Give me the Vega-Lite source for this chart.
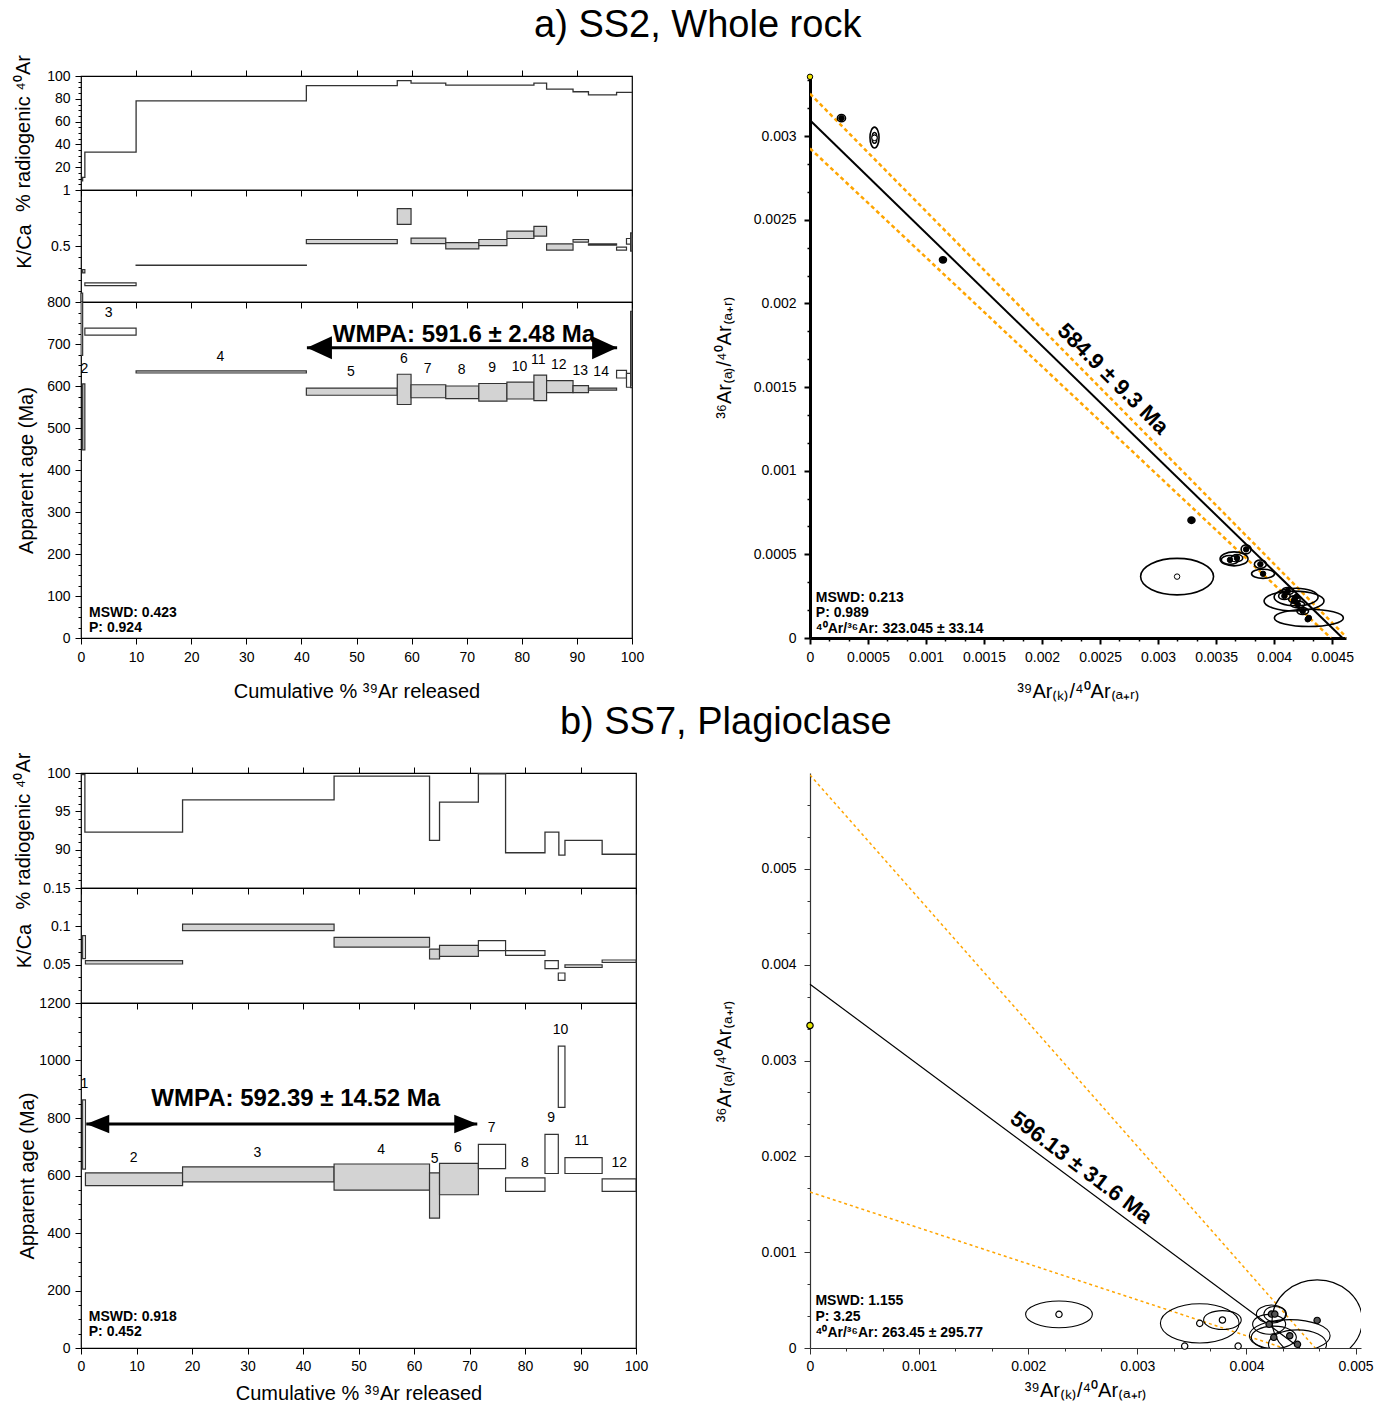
{
"$schema": "https://vega.github.io/schema/vega-lite/v6.json",
"background": "white",
"padding": {"left": 12, "top": 7, "right": 5, "bottom": 5},
"title": {"text": "a) SS2, Whole rock", "fontSize": 38, "fontWeight": "normal", "font": "Liberation Sans", "color": "#000", "anchor": "middle", "offset": 0, "dx": 5},
"config": {
  "view": {"stroke": "#000", "strokeWidth": 1.2},
  "axis": {"labelFont": "Liberation Sans Narrow, Arial Narrow, Liberation Sans, sans-serif", "labelFontSize": 14, "labelColor": "#000", "titleFont": "Liberation Sans", "titleFontSize": 20, "titleFontWeight": "normal", "titleColor": "#000", "tickColor": "#000", "domainColor": "#000", "tickSize": 6, "labelPadding": 5, "labelFlush": false, "labelOverlap": false, "grid": false}
},
"datasets": {
  "radA": [{"x":0,"v":8},{"x":0.3,"v":11},{"x":0.7,"v":33.2},{"x":10,"v":78.2},{"x":40.9,"v":91.5},{"x":57.4,"v":95.9},{"x":59.9,"v":93.8},{"x":66.2,"v":92},{"x":82.2,"v":93.8},{"x":84.5,"v":88.5},{"x":89.3,"v":86.2},{"x":92.1,"v":83.5},{"x":97.2,"v":85.6},{"x":100,"v":85.6}],
  "radB": [{"x":0,"v":99.8},{"x":0.7,"v":92.3},{"x":18.3,"v":96.5},{"x":45.6,"v":99.6},{"x":62.8,"v":91.2},{"x":64.6,"v":96.2},{"x":71.6,"v":99.9},{"x":76.5,"v":89.6},{"x":83.6,"v":92.3},{"x":86.1,"v":89.3},{"x":87.2,"v":91.2},{"x":93.9,"v":89.4},{"x":100,"v":89.4}],
  "stepsA": [
    {"step":1,"x0":0,"x1":0.3,"age_lo":673,"age_hi":830,"kca_lo":0.0,"kca_hi":0.08,"included":"no"},
    {"step":2,"x0":0.3,"x1":0.7,"age_lo":448,"age_hi":605,"kca_lo":0.26,"kca_hi":0.29,"included":"yes"},
    {"step":3,"x0":0.7,"x1":10,"age_lo":721,"age_hi":738,"kca_lo":0.146,"kca_hi":0.17,"included":"no"},
    {"step":4,"x0":10,"x1":40.9,"age_lo":631,"age_hi":636,"kca_lo":0.326,"kca_hi":0.33,"included":"yes"},
    {"step":5,"x0":40.9,"x1":57.4,"age_lo":578,"age_hi":595,"kca_lo":0.522,"kca_hi":0.558,"included":"yes"},
    {"step":6,"x0":57.4,"x1":59.9,"age_lo":556,"age_hi":628,"kca_lo":0.693,"kca_hi":0.833,"included":"yes"},
    {"step":7,"x0":59.9,"x1":66.2,"age_lo":572,"age_hi":603,"kca_lo":0.522,"kca_hi":0.57,"included":"yes"},
    {"step":8,"x0":66.2,"x1":72.2,"age_lo":570,"age_hi":600,"kca_lo":0.475,"kca_hi":0.531,"included":"yes"},
    {"step":9,"x0":72.2,"x1":77.3,"age_lo":564,"age_hi":606,"kca_lo":0.504,"kca_hi":0.558,"included":"yes"},
    {"step":10,"x0":77.3,"x1":82.2,"age_lo":569,"age_hi":609,"kca_lo":0.567,"kca_hi":0.633,"included":"yes"},
    {"step":11,"x0":82.2,"x1":84.5,"age_lo":565,"age_hi":626,"kca_lo":0.588,"kca_hi":0.675,"included":"yes"},
    {"step":12,"x0":84.5,"x1":89.3,"age_lo":584,"age_hi":613,"kca_lo":0.463,"kca_hi":0.519,"included":"yes"},
    {"step":13,"x0":89.3,"x1":92.1,"age_lo":584,"age_hi":601,"kca_lo":0.534,"kca_hi":0.558,"included":"yes"},
    {"step":14,"x0":92.1,"x1":97.2,"age_lo":590,"age_hi":595,"kca_lo":0.507,"kca_hi":0.519,"included":"yes"},
    {"step":15,"x0":97.2,"x1":99.0,"age_lo":619,"age_hi":637,"kca_lo":0.463,"kca_hi":0.49,"included":"no"},
    {"step":16,"x0":99.0,"x1":100,"age_lo":597,"age_hi":630,"kca_lo":0.516,"kca_hi":0.567,"included":"no"},
    {"step":17,"x0":99.75,"x1":100,"age_lo":596,"age_hi":778,"kca_lo":0.454,"kca_hi":0.618,"included":"no"}
  ],
  "stepsB": [
    {"step":1,"x0":0.3,"x1":0.8,"age_lo":622,"age_hi":863,"kca_lo":0.0578,"kca_hi":0.0878,"included":"no"},
    {"step":2,"x0":0.8,"x1":18.3,"age_lo":565,"age_hi":609,"kca_lo":0.0509,"kca_hi":0.0552,"included":"yes"},
    {"step":3,"x0":18.3,"x1":45.6,"age_lo":578,"age_hi":630,"kca_lo":0.0943,"kca_hi":0.103,"included":"yes"},
    {"step":4,"x0":45.6,"x1":62.8,"age_lo":549,"age_hi":640,"kca_lo":0.073,"kca_hi":0.0857,"included":"yes"},
    {"step":5,"x0":62.8,"x1":64.6,"age_lo":452,"age_hi":609,"kca_lo":0.0574,"kca_hi":0.0704,"included":"yes"},
    {"step":6,"x0":64.6,"x1":71.6,"age_lo":533,"age_hi":642,"kca_lo":0.0609,"kca_hi":0.0752,"included":"yes"},
    {"step":7,"x0":71.6,"x1":76.5,"age_lo":624,"age_hi":708,"kca_lo":0.0683,"kca_hi":0.0813,"included":"no"},
    {"step":8,"x0":76.5,"x1":83.6,"age_lo":545,"age_hi":592,"kca_lo":0.0622,"kca_hi":0.0683,"included":"no"},
    {"step":9,"x0":83.6,"x1":86.0,"age_lo":607,"age_hi":743,"kca_lo":0.0448,"kca_hi":0.0552,"included":"no"},
    {"step":10,"x0":86.0,"x1":87.2,"age_lo":837,"age_hi":1050,"kca_lo":0.0296,"kca_hi":0.0391,"included":"no"},
    {"step":11,"x0":87.2,"x1":93.9,"age_lo":607,"age_hi":662,"kca_lo":0.0465,"kca_hi":0.0496,"included":"no"},
    {"step":12,"x0":93.9,"x1":100,"age_lo":545,"age_hi":588,"kca_lo":0.053,"kca_hi":0.0561,"included":"no"}
  ],
  "labelsA": [{"label":"2","lx":0.6,"ly":641},{"label":"3","lx":5,"ly":774},{"label":"4","lx":25.3,"ly":669},{"label":"5","lx":49,"ly":633},{"label":"6","lx":58.6,"ly":665},{"label":"7","lx":62.9,"ly":640},{"label":"8","lx":69.1,"ly":637},{"label":"9","lx":74.6,"ly":643},{"label":"10","lx":79.6,"ly":645},{"label":"11","lx":83,"ly":663},{"label":"12","lx":86.7,"ly":649},{"label":"13","lx":90.6,"ly":636},{"label":"14","lx":94.4,"ly":633}],
  "labelsB": [{"label":"1","lx":0.6,"ly":917},{"label":"2","lx":9.5,"ly":662},{"label":"3","lx":31.8,"ly":680},{"label":"4","lx":54.1,"ly":688},{"label":"5","lx":63.7,"ly":659},{"label":"6","lx":67.9,"ly":694},{"label":"7","lx":74,"ly":766},{"label":"8","lx":80,"ly":644},{"label":"9","lx":84.7,"ly":799},{"label":"10","lx":86.4,"ly":1105},{"label":"11","lx":90.2,"ly":720},{"label":"12","lx":97,"ly":642}],
  "wmpaA": [{"x0":41.0,"x1":97.3,"y":691,"lx":69.5,"ly":721,"label":"WMPA: 591.6 ± 2.48 Ma"}],
  "wmpaB": [{"x0":0.95,"x1":71.4,"y":779,"lx":38.7,"ly":866,"label":"WMPA: 592.39 ± 14.52 Ma"}],
  "statsA": [{"x":1.45,"y":59.5,"t":"MSWD: 0.423"},{"x":1.45,"y":23.8,"t":"P: 0.924"}],
  "statsB": [{"x":1.4,"y":108,"t":"MSWD: 0.918"},{"x":1.4,"y":56,"t":"P: 0.452"}],
  "isoLinesA": [{"series":"fit","x":0,"y":0.003095},{"series":"fit","x":0.00459,"y":0},{"series":"upper","x":0,"y":0.003254},{"series":"upper","x":0.00463,"y":0},{"series":"lower","x":0,"y":0.002927},{"series":"lower","x":0.00449,"y":0}],
  "isoLinesB": [{"series":"fit","x":0,"y":0.003796},{"series":"fit","x":0.00449,"y":0},{"series":"upper","x":0,"y":0.00598},{"series":"upper","x":0.00463,"y":0},{"series":"lower","x":0,"y":0.001628},{"series":"lower","x":0.00434,"y":0}],
  "isoPtsA": [
    {"x":0,"y":0.003355,"w":0,"aspect":"0.9","kind":"atm"},
    {"x":0.000271,"y":0.003108,"w":0.00007,"aspect":"0.9","kind":"filled"},
    {"x":0.000556,"y":0.002992,"w":0.000078,"aspect":"2.3","kind":"hollow"},
    {"x":0.000556,"y":0.00299,"w":0.00004,"aspect":"2.3","kind":"hollow"},
    {"x":0.001146,"y":0.002261,"w":0.00006,"aspect":"0.9","kind":"filled"},
    {"x":0.003288,"y":0.000704,"w":0.00006,"aspect":"0.9","kind":"filled"},
    {"x":0.003164,"y":0.000367,"w":0.000629,"aspect":"0.5","kind":"hollow"},
    {"x":0.003655,"y":0.000473,"w":0.000241,"aspect":"0.5","kind":"hollow"},
    {"x":0.00362,"y":0.000467,"w":0.00015,"aspect":"0.5","kind":"filled"},
    {"x":0.00368,"y":0.000478,"w":0.0001,"aspect":"0.6","kind":"filled"},
    {"x":0.003759,"y":0.00053,"w":0.000086,"aspect":"0.9","kind":"filled"},
    {"x":0.003882,"y":0.000441,"w":0.000103,"aspect":"0.7","kind":"filled"},
    {"x":0.003905,"y":0.000384,"w":0.000198,"aspect":"0.4","kind":"filled"},
    {"x":0.004172,"y":0.000221,"w":0.000517,"aspect":"0.33","kind":"filled"},
    {"x":0.00419,"y":0.000245,"w":0.000379,"aspect":"0.4","kind":"filled"},
    {"x":0.0043,"y":0.00012,"w":0.000595,"aspect":"0.25","kind":"filled"},
    {"x":0.004118,"y":0.000281,"w":0.0001,"aspect":"0.6","kind":"filled"},
    {"x":0.004175,"y":0.000231,"w":0.0001,"aspect":"0.6","kind":"filled"},
    {"x":0.004204,"y":0.000201,"w":0.00012,"aspect":"0.5","kind":"filled"},
    {"x":0.00429,"y":0.000112,"w":0,"aspect":"0.9","kind":"filled"},
    {"x":0.004247,"y":0.000161,"w":0.0001,"aspect":"0.6","kind":"filled"},
    {"x":0.004089,"y":0.000251,"w":0.0001,"aspect":"0.6","kind":"filled"}
  ],
  "isoPtsB": [
    {"x":0,"y":0.003365,"w":0,"aspect":"0.9","kind":"atm"},
    {"x":0.002282,"y":0.000351,"w":0.000612,"aspect":"0.4","kind":"hollow"},
    {"x":0.003572,"y":0.000257,"w":0.000721,"aspect":"0.5","kind":"hollow"},
    {"x":0.00378,"y":0.000292,"w":0.000345,"aspect":"0.5","kind":"hollow"},
    {"x":0.004208,"y":0.000247,"w":0.000303,"aspect":"0.6","kind":"filled"},
    {"x":0.004229,"y":0.000354,"w":0.000275,"aspect":"0.6","kind":"filled"},
    {"x":0.00426,"y":0.000354,"w":0.0002,"aspect":"0.7","kind":"filled"},
    {"x":0.004648,"y":0.000288,"w":0.000826,"aspect":"0.9","kind":"filled"},
    {"x":0.004397,"y":0.000128,"w":0.00074,"aspect":"0.4","kind":"filled"},
    {"x":0.004251,"y":0.000111,"w":0.000413,"aspect":"0.5","kind":"filled"},
    {"x":0.004468,"y":0.000038,"w":0.000532,"aspect":"0.5","kind":"filled"},
    {"x":0.003434,"y":0.00002,"w":0,"aspect":"0.9","kind":"hollow"},
    {"x":0.003924,"y":0.00002,"w":0,"aspect":"0.9","kind":"hollow"}
  ],
  "isoLabelA": [{"x":0.002612,"y":0.001549,"label":"584.9 ± 9.3 Ma"}],
  "isoLabelB": [{"x":0.002486,"y":0.001885,"label":"596.13 ± 31.6 Ma"}],
  "isoStatsA": [{"x":0.00005,"y":0.000239,"t":"MSWD: 0.213"},{"x":0.00005,"y":0.00015,"t":"P: 0.989"},{"x":0.00005,"y":0.000054,"t":"⁴⁰Ar/³⁶Ar: 323.045 ± 33.14"}],
  "isoStatsB": [{"x":0.00005,"y":0.00049,"t":"MSWD: 1.155"},{"x":0.00005,"y":0.000323,"t":"P: 3.25"},{"x":0.00005,"y":0.000156,"t":"⁴⁰Ar/³⁶Ar: 263.45 ± 295.77"}]
},
"resolve": {"scale": {"fill": "independent", "size": "independent", "shape": "independent"}},
"spacing": 2,
"vconcat": [
 {
  "resolve": {"scale": {"fill": "independent", "size": "independent", "shape": "independent"}},
  "spacing": 69,
  "hconcat": [
   {
    "spacing": 0, "bounds": "flush",
    "vconcat": [
     {
      "width": 551, "height": 114,
      "data": {"name": "radA"},
      "layer": [
       {"mark": {"type": "line", "interpolate": "step-after", "color": "#333", "strokeWidth": 1.3},
        "encoding": {
         "x": {"field": "x", "type": "quantitative", "scale": {"domain": [0, 100], "nice": false}, "axis": {"orient": "bottom", "values": [0,10,20,30,40,50,60,70,80,90,100], "labels": false, "title": null, "domain": false}},
         "y": {"field": "v", "type": "quantitative", "scale": {"domain": [0, 100], "nice": false}, "axis": {"values": [20,40,60,80,100], "format": "d", "title": "% radiogenic ⁴⁰Ar", "titleX": -58, "titleBaseline": "middle", "domain": false}}
        }},
       {"mark": {"type": "point", "opacity": 0},
        "encoding": {
         "x": {"field": "x", "type": "quantitative", "axis": {"orient": "top", "values": [10,20,30,40,50,60,70,80,90], "labels": false, "domain": false, "title": " ", "titleY": -26, "titleBaseline": "middle", "titleFontSize": 8, "titleColor": "#ffffff"}},
         "y": {"field": "v", "type": "quantitative", "axis": {"orient": "left", "values": [5,10,15,25,30,35,45,50,55,65,70,75,85,90,95], "labels": false, "title": null, "domain": false, "tickSize": 3}}
        }}
      ],
      "resolve": {"axis": {"x": "independent", "y": "independent"}}
     },
     {
      "width": 551, "height": 112,
      "data": {"name": "stepsA"},
      "layer": [
       {"mark": {"type": "rect", "stroke": "#333", "strokeWidth": 1.2},
        "encoding": {
         "x": {"field": "x0", "type": "quantitative", "scale": {"domain": [0, 100], "nice": false}, "axis": {"values": [0,10,20,30,40,50,60,70,80,90,100], "labels": false, "title": null, "domain": false}},
         "x2": {"field": "x1"},
         "y": {"field": "kca_lo", "type": "quantitative", "scale": {"domain": [0, 1], "nice": false}, "axis": {"values": [0.5, 1], "format": ".1~f", "title": "K/Ca", "titleX": -57, "titleBaseline": "middle", "domain": false}},
         "y2": {"field": "kca_hi"},
         "fill": {"field": "included", "type": "nominal", "scale": {"domain": ["yes", "no"], "range": ["#d3d3d3", "#ffffff"]}, "legend": null}
        }},
       {"mark": {"type": "point", "opacity": 0},
        "encoding": {
         "x": {"field": "x0", "type": "quantitative"},
         "y": {"field": "kca_lo", "type": "quantitative", "axis": {"orient": "left", "values": [0.1,0.2,0.3,0.4,0.6,0.7,0.8,0.9], "labels": false, "title": null, "domain": false, "tickSize": 3}}
        }}
      ],
      "resolve": {"axis": {"y": "independent"}}
     },
     {
      "width": 551, "height": 336,
      "layer": [
       {"data": {"name": "stepsA"}, "mark": {"type": "rect", "stroke": "#333", "strokeWidth": 1.2, "clip": true},
        "encoding": {
         "x": {"field": "x0", "type": "quantitative", "scale": {"domain": [0, 100], "nice": false}, "axis": {"values": [0,10,20,30,40,50,60,70,80,90,100], "format": "d", "title": "Cumulative % ³⁹Ar released", "titleY": 53, "titleBaseline": "middle", "domain": false, "labelPadding": 6}},
         "x2": {"field": "x1"},
         "y": {"field": "age_lo", "type": "quantitative", "scale": {"domain": [0, 800], "nice": false}, "axis": {"values": [0,100,200,300,400,500,600,700,800], "format": "d", "title": "Apparent age (Ma)", "titleX": -55, "titleBaseline": "middle", "domain": false}},
         "y2": {"field": "age_hi"},
         "fill": {"field": "included", "type": "nominal", "scale": {"domain": ["yes", "no"], "range": ["#d3d3d3", "#ffffff"]}, "legend": null}
        }},
       {"data": {"name": "labelsA"}, "mark": {"type": "text", "font": "Liberation Sans Narrow, Arial Narrow, Liberation Sans, sans-serif", "fontSize": 14, "baseline": "middle", "color": "#000"},
        "encoding": {"x": {"field": "lx", "type": "quantitative"}, "y": {"field": "ly", "type": "quantitative", "axis": null}, "text": {"field": "label"}}},
       {"data": {"name": "wmpaA"}, "mark": {"type": "rule", "strokeWidth": 3, "color": "#000"},
        "encoding": {"x": {"field": "x0", "type": "quantitative"}, "x2": {"field": "x1"}, "y": {"field": "y", "type": "quantitative", "axis": null}}},
       {"data": {"name": "wmpaA"}, "mark": {"type": "point", "shape": "M0,0L2,-0.92L2,0.92Z", "size": 625, "filled": true, "color": "#000", "opacity": 1},
        "encoding": {"x": {"field": "x0", "type": "quantitative"}, "y": {"field": "y", "type": "quantitative", "axis": null}}},
       {"data": {"name": "wmpaA"}, "mark": {"type": "point", "shape": "M0,0L-2,-0.92L-2,0.92Z", "size": 625, "filled": true, "color": "#000", "opacity": 1},
        "encoding": {"x": {"field": "x1", "type": "quantitative"}, "y": {"field": "y", "type": "quantitative", "axis": null}}},
       {"data": {"name": "wmpaA"}, "mark": {"type": "text", "font": "Liberation Sans Narrow, Arial Narrow, Liberation Sans, sans-serif", "fontSize": 24, "fontWeight": "bold", "baseline": "middle", "color": "#000"},
        "encoding": {"x": {"field": "lx", "type": "quantitative"}, "y": {"field": "ly", "type": "quantitative", "axis": null}, "text": {"field": "label"}}},
       {"data": {"name": "statsA"}, "mark": {"type": "text", "font": "Liberation Sans Narrow, Arial Narrow, Liberation Sans, sans-serif", "fontSize": 14, "fontWeight": "bold", "align": "left", "baseline": "middle", "color": "#000"},
        "encoding": {"x": {"field": "x", "type": "quantitative"}, "y": {"field": "y", "type": "quantitative", "axis": null}, "text": {"field": "t"}}},
       {"data": {"name": "stepsA"}, "mark": {"type": "point", "opacity": 0},
        "encoding": {"x": {"field": "x0", "type": "quantitative"}, "y": {"field": "age_lo", "type": "quantitative", "axis": {"orient": "left", "values": [25,50,75,125,150,175,225,250,275,325,350,375,425,450,475,525,550,575,625,650,675,725,750,775], "labels": false, "title": null, "domain": false, "tickSize": 3}}}}
      ],
      "resolve": {"axis": {"y": "independent"}}
     }
    ]
   },
   {
    "width": 536, "height": 562,
    "view": {"stroke": null},
    "layer": [
     {"data": {"name": "isoLinesA"}, "transform": [{"filter": "datum.series !== 'fit'"}],
      "mark": {"type": "line", "color": "#FFA500", "strokeWidth": 2.5, "strokeDash": [4, 3], "clip": true},
      "encoding": {
       "x": {"field": "x", "type": "quantitative", "scale": {"domain": [0, 0.00462], "nice": false}, "axis": {"values": [0,0.0005,0.001,0.0015,0.002,0.0025,0.003,0.0035,0.004,0.0045], "format": "~g", "title": "³⁹Ar₍ₖ₎/⁴⁰Ar₍ₐ₊ᵣ₎", "titleY": 53, "titleBaseline": "middle", "domainWidth": 3, "tickWidth": 2, "labelPadding": 6}},
       "y": {"field": "y", "type": "quantitative", "scale": {"domain": [0, 0.00336], "nice": false}, "axis": {"values": [0,0.0005,0.001,0.0015,0.002,0.0025,0.003], "format": "~g", "title": "³⁶Ar₍ₐ₎/⁴⁰Ar₍ₐ₊ᵣ₎", "titleX": -86, "titleBaseline": "middle", "domainWidth": 3, "tickWidth": 2, "labelPadding": 8}},
       "detail": {"field": "series"}
      }},
     {"data": {"name": "isoLinesA"}, "transform": [{"filter": "datum.series === 'fit'"}],
      "mark": {"type": "line", "color": "#000", "strokeWidth": 2},
      "encoding": {"x": {"field": "x", "type": "quantitative", "axis": null}, "y": {"field": "y", "type": "quantitative", "axis": null}}},
     {"data": {"name": "isoPtsA"}, "transform": [{"filter": "datum.w > 0"}],
      "mark": {"type": "point", "filled": false, "stroke": "#000", "strokeWidth": 1.6, "opacity": 1, "clip": true},
      "encoding": {
       "x": {"field": "x", "type": "quantitative", "axis": null},
       "y": {"field": "y", "type": "quantitative", "axis": null},
       "size": {"field": "w", "type": "quantitative", "scale": {"type": "pow", "exponent": 2, "domain": [0, 0.001], "range": [0, 13456]}, "legend": null},
       "shape": {"field": "aspect", "type": "nominal", "scale": {"domain": ["0.25","0.33","0.4","0.5","0.6","0.7","0.9","2.3"], "range": [
         "M-1,0C-1,-0.138,-0.552,-0.25,0,-0.25C0.552,-0.25,1,-0.138,1,0C1,0.138,0.552,0.25,0,0.25C-0.552,0.25,-1,0.138,-1,0Z",
         "M-1,0C-1,-0.182,-0.552,-0.33,0,-0.33C0.552,-0.33,1,-0.182,1,0C1,0.182,0.552,0.33,0,0.33C-0.552,0.33,-1,0.182,-1,0Z",
         "M-1,0C-1,-0.221,-0.552,-0.4,0,-0.4C0.552,-0.4,1,-0.221,1,0C1,0.221,0.552,0.4,0,0.4C-0.552,0.4,-1,0.221,-1,0Z",
         "M-1,0C-1,-0.276,-0.552,-0.5,0,-0.5C0.552,-0.5,1,-0.276,1,0C1,0.276,0.552,0.5,0,0.5C-0.552,0.5,-1,0.276,-1,0Z",
         "M-1,0C-1,-0.331,-0.552,-0.6,0,-0.6C0.552,-0.6,1,-0.331,1,0C1,0.331,0.552,0.6,0,0.6C-0.552,0.6,-1,0.331,-1,0Z",
         "M-1,0C-1,-0.387,-0.552,-0.7,0,-0.7C0.552,-0.7,1,-0.387,1,0C1,0.387,0.552,0.7,0,0.7C-0.552,0.7,-1,0.387,-1,0Z",
         "M-1,0C-1,-0.497,-0.552,-0.9,0,-0.9C0.552,-0.9,1,-0.497,1,0C1,0.497,0.552,0.9,0,0.9C-0.552,0.9,-1,0.497,-1,0Z",
         "M-1,0C-1,-1.27,-0.552,-2.3,0,-2.3C0.552,-2.3,1,-1.27,1,0C1,1.27,0.552,2.3,0,2.3C-0.552,2.3,-1,1.27,-1,0Z"]}, "legend": null}
      }},
     {"data": {"name": "isoPtsA"},
      "mark": {"type": "point", "filled": true, "shape": "circle", "size": 30, "stroke": "#000", "strokeWidth": 1, "opacity": 1},
      "encoding": {
       "x": {"field": "x", "type": "quantitative", "axis": null},
       "y": {"field": "y", "type": "quantitative", "axis": null},
       "fill": {"field": "kind", "type": "nominal", "scale": {"domain": ["filled", "hollow", "atm"], "range": ["#000000", "#ffffff", "#f2e600"]}, "legend": null}
      }},
     {"data": {"name": "isoLabelA"}, "mark": {"type": "text", "angle": 45, "fontSize": 22, "fontWeight": "bold", "font": "Liberation Sans", "color": "#000", "baseline": "middle"},
      "encoding": {"x": {"field": "x", "type": "quantitative", "axis": null}, "y": {"field": "y", "type": "quantitative", "axis": null}, "text": {"field": "label"}}},
     {"data": {"name": "isoStatsA"}, "mark": {"type": "text", "align": "left", "baseline": "middle", "fontSize": 14, "fontWeight": "bold", "font": "Liberation Sans Narrow, Arial Narrow, Liberation Sans, sans-serif", "color": "#000"},
      "encoding": {"x": {"field": "x", "type": "quantitative", "axis": null}, "y": {"field": "y", "type": "quantitative", "axis": null}, "text": {"field": "t"}}},
     {"data": {"name": "isoLinesA"}, "mark": {"type": "point", "opacity": 0},
      "encoding": {
       "x": {"field": "x", "type": "quantitative", "axis": {"orient": "bottom", "values": [0.0001667,0.0003333,0.0006667,0.0008333,0.0011667,0.0013333,0.0016667,0.0018333,0.0021667,0.0023333,0.0026667,0.0028333,0.0031667,0.0033333,0.0036667,0.0038333,0.0041667,0.0043333], "labels": false, "title": null, "domain": false, "tickSize": 3, "tickWidth": 1.5}},
       "y": {"field": "y", "type": "quantitative", "axis": {"orient": "left", "values": [0.0001667,0.0003333,0.0006667,0.0008333,0.0011667,0.0013333,0.0016667,0.0018333,0.0021667,0.0023333,0.0026667,0.0028333,0.0031667,0.0033333], "labels": false, "title": null, "domain": false, "tickSize": 3, "tickWidth": 1.5}}
      }},
     {"data": {"name": "isoLinesA"}, "mark": {"type": "point", "opacity": 0},
      "encoding": {
       "x": {"field": "x", "type": "quantitative", "axis": {"orient": "top", "ticks": false, "labels": false, "domain": false, "title": " ", "titleY": -26, "titleBaseline": "middle", "titleFontSize": 8, "titleColor": "#ffffff"}},
       "y": {"field": "y", "type": "quantitative", "axis": null}
      }}
    ],
    "resolve": {"axis": {"x": "independent", "y": "independent"}}
   }
  ]
 },
 {
  "title": {"text": "b) SS7, Plagioclase", "fontSize": 38, "fontWeight": "normal", "font": "Liberation Sans", "color": "#000", "anchor": "middle", "offset": 0, "dx": 33},
  "resolve": {"scale": {"fill": "independent", "size": "independent", "shape": "independent"}},
  "spacing": 65,
  "hconcat": [
   {
    "spacing": 0, "bounds": "flush",
    "vconcat": [
     {
      "width": 555, "height": 115,
      "data": {"name": "radB"},
      "layer": [
       {"mark": {"type": "line", "interpolate": "step-after", "color": "#333", "strokeWidth": 1.3},
        "encoding": {
         "x": {"field": "x", "type": "quantitative", "scale": {"domain": [0, 100], "nice": false}, "axis": {"orient": "bottom", "values": [0,10,20,30,40,50,60,70,80,90,100], "labels": false, "title": null, "domain": false}},
         "y": {"field": "v", "type": "quantitative", "scale": {"domain": [85, 100], "nice": false, "zero": false}, "axis": {"values": [90,95,100], "format": "d", "title": "% radiogenic ⁴⁰Ar", "titleX": -58, "titleBaseline": "middle", "domain": false}}
        }},
       {"mark": {"type": "point", "opacity": 0},
        "encoding": {
         "x": {"field": "x", "type": "quantitative", "axis": {"orient": "top", "values": [10,20,30,40,50,60,70,80,90], "labels": false, "domain": false, "title": " ", "titleY": -26, "titleBaseline": "middle", "titleFontSize": 8, "titleColor": "#ffffff"}},
         "y": {"field": "v", "type": "quantitative", "axis": {"orient": "left", "values": [86,87,88,89,91,92,93,94,96,97,98,99], "labels": false, "title": null, "domain": false, "tickSize": 3}}
        }}
      ],
      "resolve": {"axis": {"x": "independent", "y": "independent"}}
     },
     {
      "width": 555, "height": 115,
      "data": {"name": "stepsB"},
      "layer": [
       {"mark": {"type": "rect", "stroke": "#333", "strokeWidth": 1.2},
        "encoding": {
         "x": {"field": "x0", "type": "quantitative", "scale": {"domain": [0, 100], "nice": false}, "axis": {"values": [0,10,20,30,40,50,60,70,80,90,100], "labels": false, "title": null, "domain": false}},
         "x2": {"field": "x1"},
         "y": {"field": "kca_lo", "type": "quantitative", "scale": {"domain": [0, 0.15], "nice": false}, "axis": {"values": [0.05, 0.1, 0.15], "format": ".2~f", "title": "K/Ca", "titleX": -57, "titleBaseline": "middle", "domain": false}},
         "y2": {"field": "kca_hi"},
         "fill": {"field": "included", "type": "nominal", "scale": {"domain": ["yes", "no"], "range": ["#d3d3d3", "#ffffff"]}, "legend": null}
        }},
       {"mark": {"type": "point", "opacity": 0},
        "encoding": {
         "x": {"field": "x0", "type": "quantitative"},
         "y": {"field": "kca_lo", "type": "quantitative", "axis": {"orient": "left", "values": [0.016667,0.033333,0.066667,0.083333,0.116667,0.133333], "labels": false, "title": null, "domain": false, "tickSize": 3}}
        }}
      ],
      "resolve": {"axis": {"y": "independent"}}
     },
     {
      "width": 555, "height": 345,
      "layer": [
       {"data": {"name": "stepsB"}, "mark": {"type": "rect", "stroke": "#333", "strokeWidth": 1.2, "clip": true},
        "encoding": {
         "x": {"field": "x0", "type": "quantitative", "scale": {"domain": [0, 100], "nice": false}, "axis": {"values": [0,10,20,30,40,50,60,70,80,90,100], "format": "d", "title": "Cumulative % ³⁹Ar released", "titleY": 45, "titleBaseline": "middle", "domain": false, "labelPadding": 5}},
         "x2": {"field": "x1"},
         "y": {"field": "age_lo", "type": "quantitative", "scale": {"domain": [0, 1200], "nice": false}, "axis": {"values": [0,200,400,600,800,1000,1200], "format": "d", "title": "Apparent age (Ma)", "titleX": -54, "titleBaseline": "middle", "domain": false}},
         "y2": {"field": "age_hi"},
         "fill": {"field": "included", "type": "nominal", "scale": {"domain": ["yes", "no"], "range": ["#d3d3d3", "#ffffff"]}, "legend": null}
        }},
       {"data": {"name": "labelsB"}, "mark": {"type": "text", "font": "Liberation Sans Narrow, Arial Narrow, Liberation Sans, sans-serif", "fontSize": 14, "baseline": "middle", "color": "#000"},
        "encoding": {"x": {"field": "lx", "type": "quantitative"}, "y": {"field": "ly", "type": "quantitative", "axis": null}, "text": {"field": "label"}}},
       {"data": {"name": "wmpaB"}, "mark": {"type": "rule", "strokeWidth": 3, "color": "#000"},
        "encoding": {"x": {"field": "x0", "type": "quantitative"}, "x2": {"field": "x1"}, "y": {"field": "y", "type": "quantitative", "axis": null}}},
       {"data": {"name": "wmpaB"}, "mark": {"type": "point", "shape": "M0,0L2,-0.8L2,0.8Z", "size": 529, "filled": true, "color": "#000", "opacity": 1},
        "encoding": {"x": {"field": "x0", "type": "quantitative"}, "y": {"field": "y", "type": "quantitative", "axis": null}}},
       {"data": {"name": "wmpaB"}, "mark": {"type": "point", "shape": "M0,0L-2,-0.8L-2,0.8Z", "size": 529, "filled": true, "color": "#000", "opacity": 1},
        "encoding": {"x": {"field": "x1", "type": "quantitative"}, "y": {"field": "y", "type": "quantitative", "axis": null}}},
       {"data": {"name": "wmpaB"}, "mark": {"type": "text", "font": "Liberation Sans Narrow, Arial Narrow, Liberation Sans, sans-serif", "fontSize": 24, "fontWeight": "bold", "baseline": "middle", "color": "#000"},
        "encoding": {"x": {"field": "lx", "type": "quantitative"}, "y": {"field": "ly", "type": "quantitative", "axis": null}, "text": {"field": "label"}}},
       {"data": {"name": "statsB"}, "mark": {"type": "text", "font": "Liberation Sans Narrow, Arial Narrow, Liberation Sans, sans-serif", "fontSize": 14, "fontWeight": "bold", "align": "left", "baseline": "middle", "color": "#000"},
        "encoding": {"x": {"field": "x", "type": "quantitative"}, "y": {"field": "y", "type": "quantitative", "axis": null}, "text": {"field": "t"}}},
       {"data": {"name": "stepsB"}, "mark": {"type": "point", "opacity": 0},
        "encoding": {"x": {"field": "x0", "type": "quantitative"}, "y": {"field": "age_lo", "type": "quantitative", "axis": {"orient": "left", "values": [50,100,150,250,300,350,450,500,550,650,700,750,850,900,950,1050,1100,1150], "labels": false, "title": null, "domain": false, "tickSize": 3}}}}
      ],
      "resolve": {"axis": {"y": "independent"}}
     }
    ]
   },
   {
    "width": 551, "height": 575,
    "view": {"stroke": null},
    "layer": [
     {"data": {"name": "isoLinesB"}, "transform": [{"filter": "datum.series !== 'fit'"}],
      "mark": {"type": "line", "color": "#FFA500", "strokeWidth": 1.5, "strokeDash": [3, 3], "clip": true},
      "encoding": {
       "x": {"field": "x", "type": "quantitative", "scale": {"domain": [0, 0.00505], "nice": false}, "axis": {"values": [0,0.001,0.002,0.003,0.004,0.005], "format": "~g", "title": "³⁹Ar₍ₖ₎/⁴⁰Ar₍ₐ₊ᵣ₎", "titleY": 42, "titleBaseline": "middle", "domainWidth": 1.2, "domainColor": "#333", "tickColor": "#333", "labelPadding": 5}},
       "y": {"field": "y", "type": "quantitative", "scale": {"domain": [0, 0.006], "nice": false}, "axis": {"values": [0,0.001,0.002,0.003,0.004,0.005], "format": "~g", "title": "³⁶Ar₍ₐ₎/⁴⁰Ar₍ₐ₊ᵣ₎", "titleX": -86, "titleBaseline": "middle", "domainWidth": 1.2, "domainColor": "#333", "tickColor": "#333", "labelPadding": 8}},
       "detail": {"field": "series"}
      }},
     {"data": {"name": "isoLinesB"}, "transform": [{"filter": "datum.series === 'fit'"}],
      "mark": {"type": "line", "color": "#000", "strokeWidth": 1.2},
      "encoding": {"x": {"field": "x", "type": "quantitative", "axis": null}, "y": {"field": "y", "type": "quantitative", "axis": null}}},
     {"data": {"name": "isoPtsB"}, "transform": [{"filter": "datum.w > 0"}],
      "mark": {"type": "point", "filled": false, "stroke": "#000", "strokeWidth": 1.1, "opacity": 1, "clip": true},
      "encoding": {
       "x": {"field": "x", "type": "quantitative", "axis": null},
       "y": {"field": "y", "type": "quantitative", "axis": null},
       "size": {"field": "w", "type": "quantitative", "scale": {"type": "pow", "exponent": 2, "domain": [0, 0.001], "range": [0, 11905]}, "legend": null},
       "shape": {"field": "aspect", "type": "nominal", "scale": {"domain": ["0.25","0.33","0.4","0.5","0.6","0.7","0.9","2.3"], "range": [
         "M-1,0C-1,-0.138,-0.552,-0.25,0,-0.25C0.552,-0.25,1,-0.138,1,0C1,0.138,0.552,0.25,0,0.25C-0.552,0.25,-1,0.138,-1,0Z",
         "M-1,0C-1,-0.182,-0.552,-0.33,0,-0.33C0.552,-0.33,1,-0.182,1,0C1,0.182,0.552,0.33,0,0.33C-0.552,0.33,-1,0.182,-1,0Z",
         "M-1,0C-1,-0.221,-0.552,-0.4,0,-0.4C0.552,-0.4,1,-0.221,1,0C1,0.221,0.552,0.4,0,0.4C-0.552,0.4,-1,0.221,-1,0Z",
         "M-1,0C-1,-0.276,-0.552,-0.5,0,-0.5C0.552,-0.5,1,-0.276,1,0C1,0.276,0.552,0.5,0,0.5C-0.552,0.5,-1,0.276,-1,0Z",
         "M-1,0C-1,-0.331,-0.552,-0.6,0,-0.6C0.552,-0.6,1,-0.331,1,0C1,0.331,0.552,0.6,0,0.6C-0.552,0.6,-1,0.331,-1,0Z",
         "M-1,0C-1,-0.387,-0.552,-0.7,0,-0.7C0.552,-0.7,1,-0.387,1,0C1,0.387,0.552,0.7,0,0.7C-0.552,0.7,-1,0.387,-1,0Z",
         "M-1,0C-1,-0.497,-0.552,-0.9,0,-0.9C0.552,-0.9,1,-0.497,1,0C1,0.497,0.552,0.9,0,0.9C-0.552,0.9,-1,0.497,-1,0Z",
         "M-1,0C-1,-1.27,-0.552,-2.3,0,-2.3C0.552,-2.3,1,-1.27,1,0C1,1.27,0.552,2.3,0,2.3C-0.552,2.3,-1,1.27,-1,0Z"]}, "legend": null}
      }},
     {"data": {"name": "isoPtsB"},
      "mark": {"type": "point", "filled": true, "shape": "circle", "size": 40, "stroke": "#000", "strokeWidth": 1.2, "opacity": 1},
      "encoding": {
       "x": {"field": "x", "type": "quantitative", "axis": null},
       "y": {"field": "y", "type": "quantitative", "axis": null},
       "fill": {"field": "kind", "type": "nominal", "scale": {"domain": ["filled", "hollow", "atm"], "range": ["#555555", "#ffffff", "#e6e600"]}, "legend": null}
      }},
     {"data": {"name": "isoLabelB"}, "mark": {"type": "text", "angle": 37, "fontSize": 22, "fontWeight": "bold", "font": "Liberation Sans", "color": "#000", "baseline": "middle"},
      "encoding": {"x": {"field": "x", "type": "quantitative", "axis": null}, "y": {"field": "y", "type": "quantitative", "axis": null}, "text": {"field": "label"}}},
     {"data": {"name": "isoStatsB"}, "mark": {"type": "text", "align": "left", "baseline": "middle", "fontSize": 14, "fontWeight": "bold", "font": "Liberation Sans Narrow, Arial Narrow, Liberation Sans, sans-serif", "color": "#000"},
      "encoding": {"x": {"field": "x", "type": "quantitative", "axis": null}, "y": {"field": "y", "type": "quantitative", "axis": null}, "text": {"field": "t"}}},
     {"data": {"name": "isoLinesB"}, "mark": {"type": "point", "opacity": 0},
      "encoding": {
       "x": {"field": "x", "type": "quantitative", "axis": {"orient": "bottom", "values": [0.0003333,0.0006667,0.0013333,0.0016667,0.0023333,0.0026667,0.0033333,0.0036667,0.0043333,0.0046667], "labels": false, "title": null, "domain": false, "tickSize": 3, "tickColor": "#333"}},
       "y": {"field": "y", "type": "quantitative", "axis": {"orient": "left", "values": [0.0003333,0.0006667,0.0013333,0.0016667,0.0023333,0.0026667,0.0033333,0.0036667,0.0043333,0.0046667,0.0053333,0.0056667], "labels": false, "title": null, "domain": false, "tickSize": 3, "tickColor": "#333"}}
      }},
     {"data": {"name": "isoLinesB"}, "mark": {"type": "point", "opacity": 0},
      "encoding": {
       "x": {"field": "x", "type": "quantitative", "axis": {"orient": "top", "ticks": false, "labels": false, "domain": false, "title": " ", "titleY": -26, "titleBaseline": "middle", "titleFontSize": 8, "titleColor": "#ffffff"}},
       "y": {"field": "y", "type": "quantitative", "axis": null}
      }}
    ],
    "resolve": {"axis": {"x": "independent", "y": "independent"}}
   }
  ]
 }
]
}
